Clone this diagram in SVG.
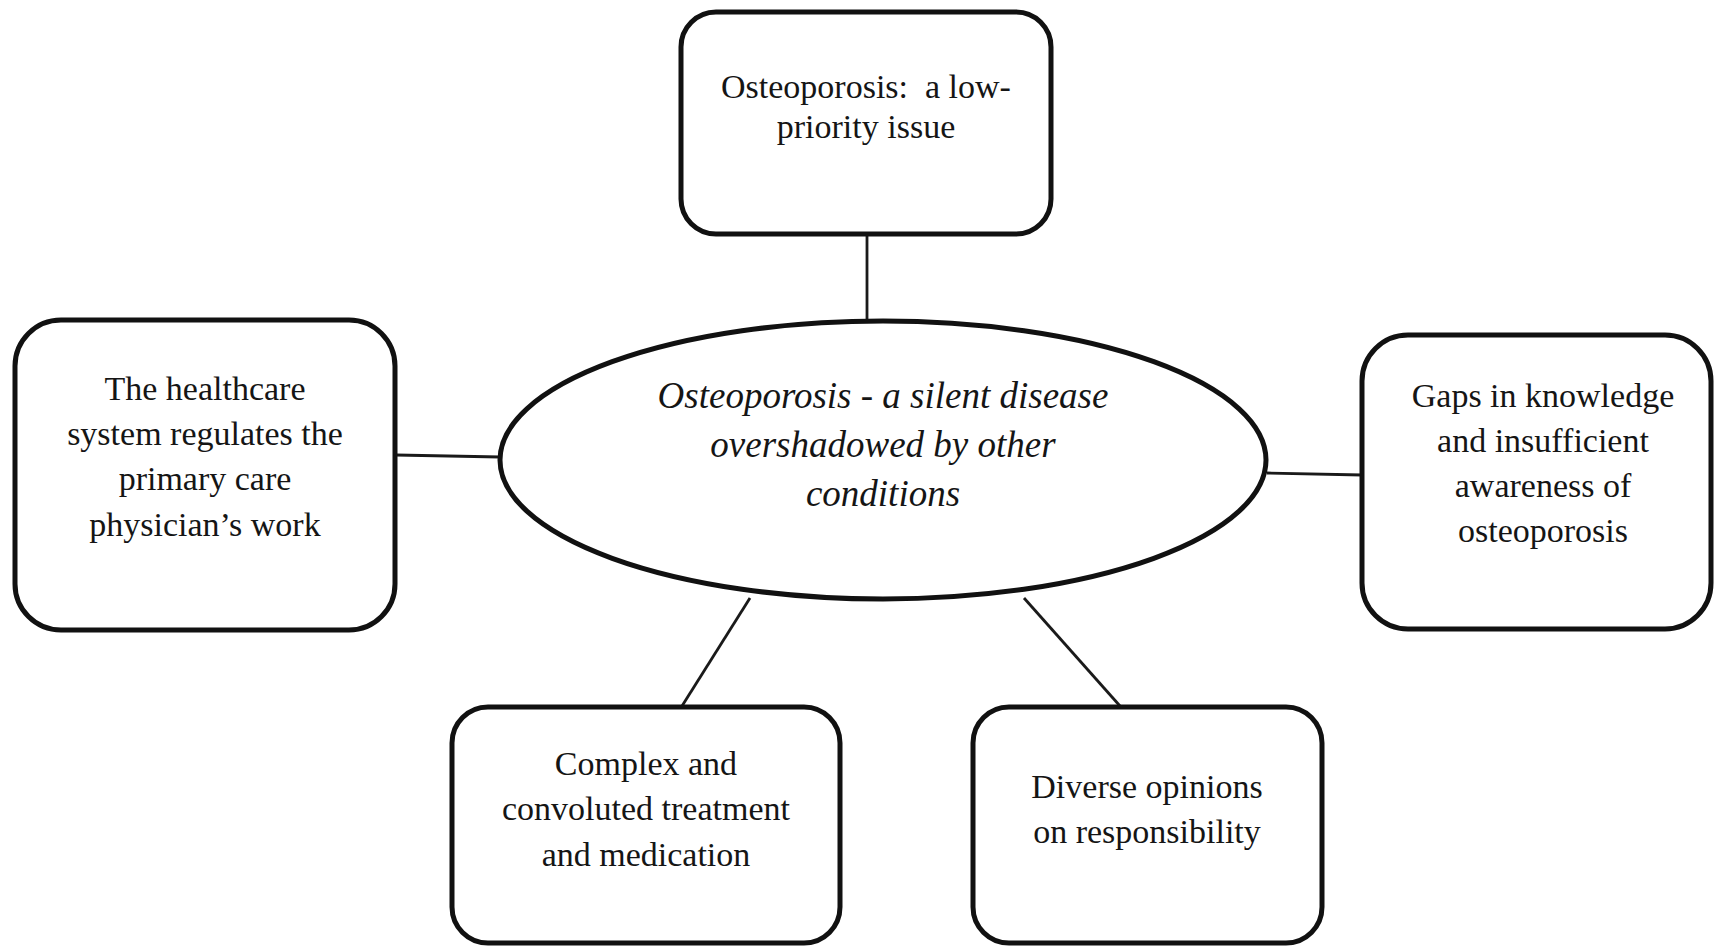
<svg xmlns="http://www.w3.org/2000/svg" width="1714" height="948" viewBox="0 0 1714 948">
<style>
.box{fill:#fff;stroke:#111;stroke-width:5}
.conn{stroke:#1a1a1a;stroke-width:2.8;fill:none}
.t{font-family:"Liberation Serif","Times New Roman",serif;font-size:34px;fill:#151515;text-anchor:middle}
.c{font-family:"Liberation Serif","Times New Roman",serif;font-size:37px;font-style:italic;fill:#151515;text-anchor:middle}
</style>
<rect width="1714" height="948" fill="#fff"/>
<g id="connectors">
<line class="conn" x1="867" y1="235" x2="867" y2="321"/>
<line class="conn" x1="396" y1="455" x2="500" y2="457"/>
<line class="conn" x1="1267" y1="473" x2="1362" y2="475"/>
<line class="conn" x1="750" y1="598" x2="682" y2="706"/>
<line class="conn" x1="1024" y1="598" x2="1120" y2="706"/>
</g>
<g id="center">
<ellipse class="box" cx="883" cy="460" rx="383" ry="139" stroke-width="5.5"/>
<text class="c" x="883" y="408">Osteoporosis - a silent disease</text>
<text class="c" x="883" y="457">overshadowed by other</text>
<text class="c" x="883" y="506">conditions</text>
</g>
<g id="top">
<rect class="box" x="681" y="12" width="370" height="222" rx="35"/>
<text class="t" x="866" y="98">Osteoporosis:&#160; a low-</text>
<text class="t" x="866" y="138">priority issue</text>
</g>
<g id="left">
<rect class="box" x="15" y="320" width="380" height="310" rx="46"/>
<text class="t" x="205" y="400">The healthcare</text>
<text class="t" x="205" y="445">system regulates the</text>
<text class="t" x="205" y="490">primary care</text>
<text class="t" x="205" y="536">physician’s work</text>
</g>
<g id="right">
<rect class="box" x="1362" y="335" width="349" height="294" rx="46"/>
<text class="t" x="1543" y="407">Gaps in knowledge</text>
<text class="t" x="1543" y="452">and insufficient</text>
<text class="t" x="1543" y="497">awareness of</text>
<text class="t" x="1543" y="542">osteoporosis</text>
</g>
<g id="bottom-left">
<rect class="box" x="452" y="707" width="388" height="236" rx="36"/>
<text class="t" x="646" y="775">Complex and</text>
<text class="t" x="646" y="820">convoluted treatment</text>
<text class="t" x="646" y="866">and medication</text>
</g>
<g id="bottom-right">
<rect class="box" x="973" y="707" width="349" height="236" rx="36"/>
<text class="t" x="1147" y="798">Diverse opinions</text>
<text class="t" x="1147" y="843">on responsibility</text>
</g>
</svg>
